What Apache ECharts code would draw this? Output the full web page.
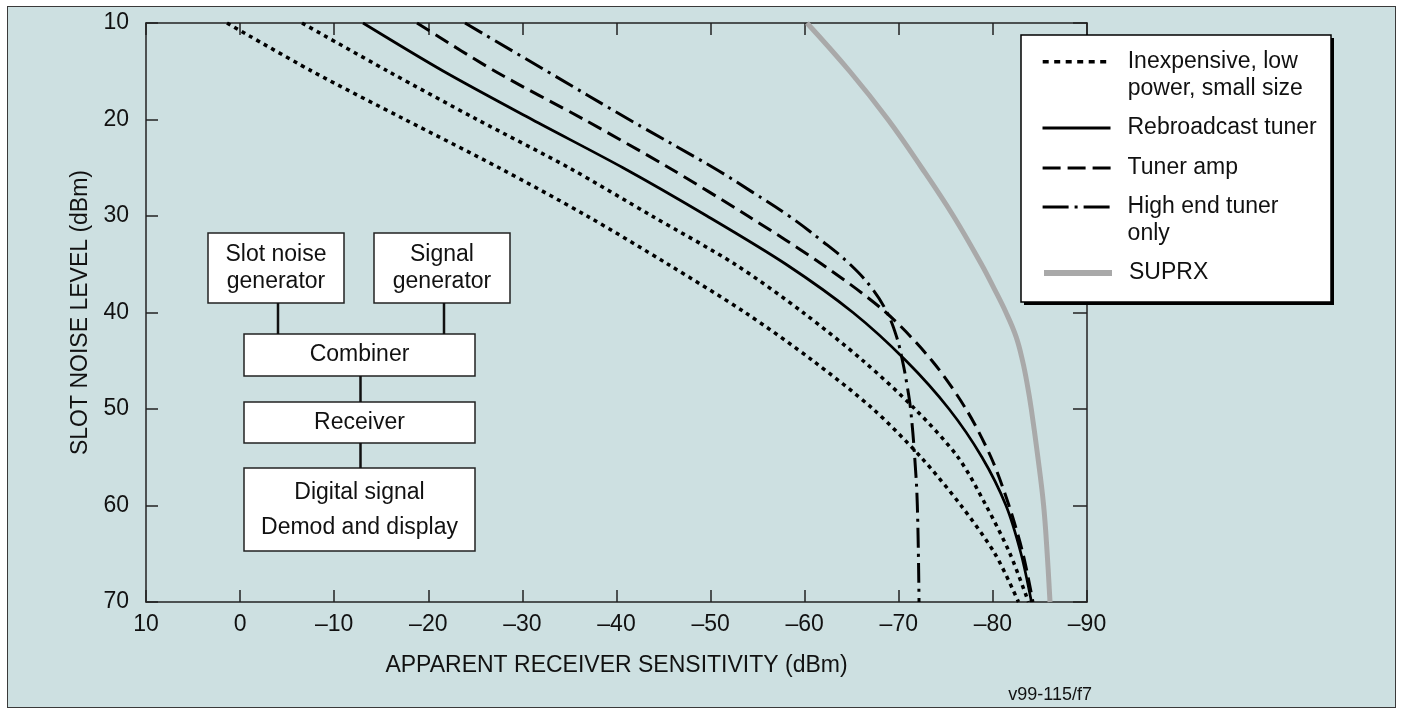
<!DOCTYPE html>
<html><head><meta charset="utf-8">
<script src="https://cdn.jsdelivr.net/npm/echarts/dist/echarts.min.js"></script>
<style>
html,body{margin:0;padding:0;background:#fff;}
#frame{position:absolute;left:7px;top:6px;width:1387px;height:700px;background:#cde0e1;border:1.5px solid #3a3a3a;}
#chart{position:absolute;left:0;top:0;width:1401px;height:709px;}
</style></head><body>
<div id="frame"></div><div id="chart"></div>
<script>
// ---- data (x = apparent receiver sensitivity dBm, at slot noise levels dBm) ----
const noiseLevels = [10, 15, 20, 25, 30, 35, 40, 45, 50, 55, 60, 65, 70];
const inexpensiveA = [1.39, -7.64, -17.52, -27.51, -36.87, -45.47, -53.66, -60.88, -67.26, -72.36, -76.61, -80.22, -82.72];
const inexpensiveB = [-6.58, -15.72, -25.18, -34.95, -43.77, -52.59, -59.82, -66.20, -71.72, -76.29, -79.27, -81.82, -83.78];
const rebroadcast = [-13.06, -21.62, -31.02, -40.69, -49.62, -58.01, -65.13, -70.77, -75.34, -78.84, -81.39, -82.99, -84.10];
const tunerAmp = [-18.80, -27.09, -36.55, -45.58, -53.97, -61.84, -68.64, -73.53, -77.14, -79.80, -81.71, -83.20, -84.26];
const highEndLevels = [10, 15, 20, 25, 27.5, 30, 32.5, 35, 37.5, 40, 42.5, 45, 47.5, 50, 55, 60, 70];
const highEnd = [-23.90, -32.61, -41.33, -50.31, -54.40, -58.33, -61.73, -64.81, -67.15, -68.75, -69.76, -70.39, -70.87, -71.25, -71.69, -71.97, -72.15];
const suprxLevels = [10, 15, 20, 25, 30, 35, 37.5, 40, 42.5, 45, 47.5, 50, 55, 60, 65, 70];
const suprx = [-60.24, -64.78, -68.85, -72.43, -75.80, -78.78, -80.12, -81.39, -82.46, -83.15, -83.66, -84.08, -84.78, -85.39, -85.77, -86.07];
const xTickValues = [10, 0, -10, -20, -30, -40, -50, -60, -70, -80, -90];
const yTickValues = [10, 20, 30, 40, 50, 60, 70];

const NAME_INEXP = 'Inexpensive, low power, small size';
const LEGEND_TEXT = {
  'Inexpensive, low power, small size': '\nInexpensive, low\npower, small size',
  'Rebroadcast tuner': 'Rebroadcast tuner',
  'Tuner amp': 'Tuner amp',
  'High end tuner only': '\nHigh end tuner\nonly',
  'SUPRX': 'SUPRX'
};

function pairs(xs, ys) { return xs.map((x, i) => [x, ys[i]]); }

const FONT = "'Liberation Sans', Arial, Helvetica, sans-serif";
const INK = '#111';
const fmtTick = v => (v < 0 ? '\u2013' + Math.abs(v) : String(v));

const chart = echarts.init(document.getElementById('chart'), null, {renderer: 'canvas'});

const axisCommon = {
  type: 'value',
  interval: 10,
  axisLine: {show: true, onZero: false, lineStyle: {color: '#222', width: 1.5}},
  axisTick: {show: true, inside: true, length: 12, lineStyle: {color: '#222', width: 1.5}},
  splitLine: {show: false},
};

function lineSeries(name, data, lineStyle, z, smooth) {
  return {
    name, type: 'line', data, smooth: smooth || 0.3, symbol: 'none', showSymbol: false,
    xAxisIndex: 0, yAxisIndex: 0, z: z || 2, silent: true,
    itemStyle: {color: lineStyle.color},
    lineStyle: Object.assign({cap: 'butt', join: 'round'}, lineStyle),
    emphasis: {disabled: true}
  };
}

function legendFor(name, centerY, lines, lineStyle) {
  const lh = 27;
  return {
    data: [{name}],
    left: 1041,
    top: lines === 2 ? centerY - lh * 1.5 : centerY - lh / 2,
    orient: 'vertical', padding: 0, itemWidth: 68, itemHeight: 14,
    selectedMode: false, z: 20,
    formatter: n => LEGEND_TEXT[n],
    itemStyle: {opacity: 0, borderWidth: 0},
    lineStyle: lineStyle,
    textStyle: {
      fontSize: 23, fontFamily: FONT, color: INK, lineHeight: lh,
      padding: [0, 0, 0, 12]
    }
  };
}

const diagramBoxes = [
  {x: 208, y: 233, w: 136, h: 70, lines: ['Slot noise', 'generator'], ty: [255, 282]},
  {x: 374, y: 233, w: 136, h: 70, lines: ['Signal', 'generator'], ty: [255, 282]},
  {x: 244, y: 334, w: 231, h: 42, lines: ['Combiner'], ty: [355]},
  {x: 244, y: 402, w: 231, h: 41, lines: ['Receiver'], ty: [423]},
  {x: 244, y: 468, w: 231, h: 83, lines: ['Digital signal', 'Demod and display'], ty: [493, 528]}
];
const diagramLinks = [[278, 303, 278, 334], [444, 303, 444, 334], [360.5, 376, 360.5, 402], [360.5, 443, 360.5, 468]];

const graphics = [];
diagramBoxes.forEach(b => {
  graphics.push({type: 'rect', z: 10, shape: {x: b.x, y: b.y, width: b.w, height: b.h},
    style: {fill: '#fff', stroke: '#222', lineWidth: 1.5}});
  b.lines.forEach((t, i) => graphics.push({type: 'text', z: 11,
    style: {text: t, x: b.x + b.w / 2, y: b.ty[i], align: 'center', verticalAlign: 'middle',
      fontSize: 23, fontFamily: FONT, fill: INK}}));
});
diagramLinks.forEach(l => graphics.push({type: 'line', z: 10,
  shape: {x1: l[0], y1: l[1], x2: l[2], y2: l[3]}, style: {stroke: '#111', lineWidth: 2.5}}));
// legend box with drop shadow
graphics.push({type: 'rect', z: 9, shape: {x: 1024, y: 38, width: 310, height: 267}, style: {fill: '#000'}});
graphics.push({type: 'rect', z: 10, shape: {x: 1021, y: 35, width: 310, height: 267},
  style: {fill: '#fff', stroke: '#000', lineWidth: 1.5}});
graphics.push({type: 'text', z: 11, style: {text: 'v99-115/f7', x: 1092, y: 695, align: 'right',
  verticalAlign: 'middle', fontSize: 18, fontFamily: FONT, fill: INK}});

const option = {
  animation: false,
  backgroundColor: 'transparent',
  textStyle: {fontFamily: FONT},
  grid: {left: 146, top: 23, width: 941, height: 579, containLabel: false, outerBoundsMode: 'none', show: false},
  xAxis: [
    Object.assign({}, axisCommon, {
      position: 'bottom', min: -90, max: 10, inverse: true,
      name: 'APPARENT RECEIVER SENSITIVITY (dBm)', nameLocation: 'middle', nameGap: 52,
      nameTextStyle: {fontSize: 23, fontFamily: FONT, color: INK},
      axisLabel: {show: true, margin: 11, fontSize: 23, fontFamily: FONT, color: INK,
        formatter: v => xTickValues.includes(v) ? fmtTick(v) : ''}
    }),
    Object.assign({}, axisCommon, {
      position: 'top', min: -90, max: 10, inverse: true, axisLabel: {show: false}
    })
  ],
  yAxis: [
    Object.assign({}, axisCommon, {
      position: 'left', min: 10, max: 70, inverse: true,
      name: 'SLOT NOISE LEVEL (dBm)', nameLocation: 'middle', nameGap: 46, nameRotate: 90,
      nameTextStyle: {fontSize: 23, fontFamily: FONT, color: INK},
      axisLabel: {show: true, margin: 17, fontSize: 23, fontFamily: FONT, color: INK,
        formatter: v => yTickValues.includes(v) ? String(v) : ''}
    }),
    Object.assign({}, axisCommon, {
      position: 'right', min: 10, max: 70, inverse: true, axisLabel: {show: false},
      axisTick: {show: true, inside: true, length: 14, lineStyle: {color: '#222', width: 1.5}}
    })
  ],
  legend: [
    legendFor(NAME_INEXP, 61.7, 2, {type: [6, 5.5], width: 3.4}),
    legendFor('Rebroadcast tuner', 128, 1, {type: 'solid', width: 3}),
    legendFor('Tuner amp', 168, 1, {type: [18, 7], width: 3.2}),
    legendFor('High end tuner only', 207, 2, {type: [26, 6, 3, 6], width: 3.2}),
    legendFor('SUPRX', 273, 1, {type: 'solid', width: 6})
  ],
  graphic: graphics,
  series: [
    lineSeries('SUPRX', pairs(suprx, suprxLevels), {color: '#a9a9a9', width: 5, type: 'solid'}, 2, 0.4),
    lineSeries(NAME_INEXP, pairs(inexpensiveA, noiseLevels), {color: '#000', width: 3.5, type: [4, 4.5]}, 3),
    lineSeries(NAME_INEXP, pairs(inexpensiveB, noiseLevels), {color: '#000', width: 3.5, type: [4, 4.5]}, 3),
    lineSeries('Rebroadcast tuner', pairs(rebroadcast, noiseLevels), {color: '#000', width: 2.7, type: 'solid'}, 3),
    lineSeries('Tuner amp', pairs(tunerAmp, noiseLevels), {color: '#000', width: 3, type: [15, 7]}, 3),
    lineSeries('High end tuner only', pairs(highEnd, highEndLevels), {color: '#000', width: 3, type: [20, 6, 3, 6]}, 3, 0.4)
  ]
};
chart.setOption(option);
</script>
</body></html>
